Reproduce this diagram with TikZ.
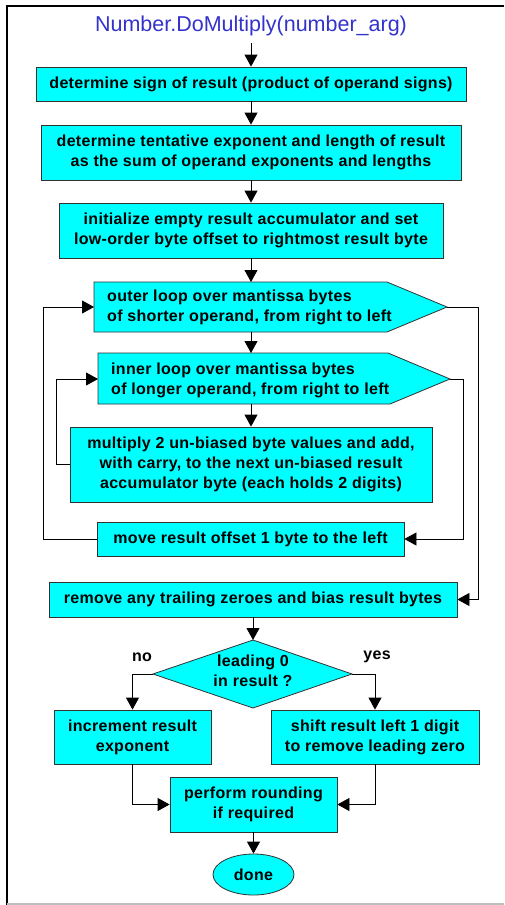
\documentclass[tikz,border=0pt]{standalone}
\usepackage{fontspec}
\setmainfont{Liberation Sans}
\newfontfamily\boxfont[LetterSpace=2]{Liberation Sans}
\usetikzlibrary{arrows.meta,shapes.geometric}
\definecolor{boxfill}{RGB}{0,255,255}
\definecolor{titleblue}{RGB}{51,51,204}
\definecolor{edgegray}{RGB}{50,50,50}
\begin{document}
\begin{tikzpicture}[x=1pt,y=-1pt,
  txt/.style={font=\boxfont\fontsize{16}{20}\selectfont\bfseries, inner sep=0pt},
  box/.style={txt, draw=edgegray, fill=boxfill, line width=0.8pt, align=center},
  shp/.style={draw=edgegray, fill=boxfill, line width=0.8pt},
  arr/.style={draw=black, line width=0.8pt, -{Triangle[width=13pt,length=12pt]}},
  lbl/.style={txt}]
\useasboundingbox (0,0) rectangle (504,905);
\fill[white] (0,0) rectangle (504,905);
% frame
\draw[black, line width=1.4pt] (7,905) -- (7,6) -- (504,6);
\draw[black!25, line width=1.5pt] (7,904) -- (504,904);

% title
\node[font=\fontsize{21.5}{25}\selectfont, text=titleblue, minimum height=34pt, inner sep=0pt] (title) at (251,26) {Number.DoMultiply(number\_arg)};

% boxes
\node[box, minimum width=430pt, minimum height=34pt] (b1) at (251,84) {determine sign of result (product of operand signs)};
\node[box, minimum width=420pt, minimum height=55pt] (b2) at (251,152.5) {determine tentative exponent and length of result\\as the sum of operand exponents and lengths};
\node[box, minimum width=384pt, minimum height=55pt] (b3) at (251,230.5) {initialize empty result accumulator and set\\low-order byte offset to rightmost result byte};

% outer loop pentagon
\draw[shp] (94,282) -- (387,282) -- (447,307) -- (387,332) -- (94,332) -- cycle;
\coordinate (outerL) at (94,307);
\coordinate (outerR) at (447,307);
\coordinate (outerT) at (251,282);
\coordinate (outerB) at (251,332);
\node[txt, anchor=west, align=left] (outer) at (107,307.5) {outer loop over mantissa bytes\\of shorter operand, from right to left};

% inner loop pentagon
\draw[shp] (98,353) -- (388,353) -- (450,379) -- (390,404) -- (98,404) -- cycle;
\coordinate (innerL) at (98,379);
\coordinate (innerR) at (450,379);
\coordinate (innerT) at (251,353);
\coordinate (innerB) at (251,404);
\node[txt, anchor=west, align=left] (inner) at (111,380) {inner loop over mantissa bytes\\of longer operand, from right to left};

\node[box, minimum width=362pt, minimum height=75pt] (mult) at (251,464.5) {multiply 2 un-biased byte values and add,\\with carry, to the next un-biased result\\accumulator byte (each holds 2 digits)};
\node[box, minimum width=307pt, minimum height=34pt] (move) at (250.5,539) {move result offset 1 byte to the left};
\node[box, minimum width=408pt, minimum height=35pt] (remove) at (253,599.5) {remove any trailing zeroes and bias result bytes};

% decision diamond
\draw[shp] (253,640) -- (352,674) -- (253,708) -- (153,674) -- cycle;
\coordinate (dT) at (253,640);
\coordinate (dL) at (153,674);
\coordinate (dR) at (352,674);
\node[txt, align=center] (dec) at (253,671) {leading 0\\in result ?};
\node[lbl] (no) at (142,657) {no};
\node[lbl] (yes) at (377,657) {yes};

\node[box, minimum width=157pt, minimum height=54pt] (inc) at (132.5,737) {increment result\\exponent};
\node[box, minimum width=208pt, minimum height=54pt] (shift) at (375,737) {shift result left 1 digit\\to remove leading zero};
\node[box, minimum width=167pt, minimum height=55pt] (perf) at (253.5,804.5) {perform rounding\\if required};
\node[txt, draw=edgegray, fill=boxfill, line width=0.8pt, ellipse, minimum width=81pt, minimum height=41pt] (done) at (253.5,874.5) {done};

% connectors
\draw[arr] (title.south) -- (b1.north);
\draw[arr] (b1.south) -- (b2.north);
\draw[arr] (b2.south) -- (b3.north);
\draw[arr] (b3.south) -- (outerT);
\draw[arr] (outerB) -- (innerT);
\draw[arr] (innerB) -- (mult.north);
\draw[arr] (mult.west) -- ++(-13,0) |- (innerL);
\draw[arr] (move.west) -- ++(-53,0) |- (outerL);
\draw[arr] (innerR) -- ++(13,0) |- (move.east);
\draw[arr] (outerR) -- ++(31,0) |- (remove.east);
\draw[arr] (remove.south) -- (dT);
\draw[arr] (dL) -| (inc.north);
\draw[arr] (dR) -| (shift.north);
\draw[arr] (inc.south) |- (perf.west);
\draw[arr] (shift.south) |- (perf.east);
\draw[arr] (perf.south) -- (done.north);
\end{tikzpicture}
\end{document}
